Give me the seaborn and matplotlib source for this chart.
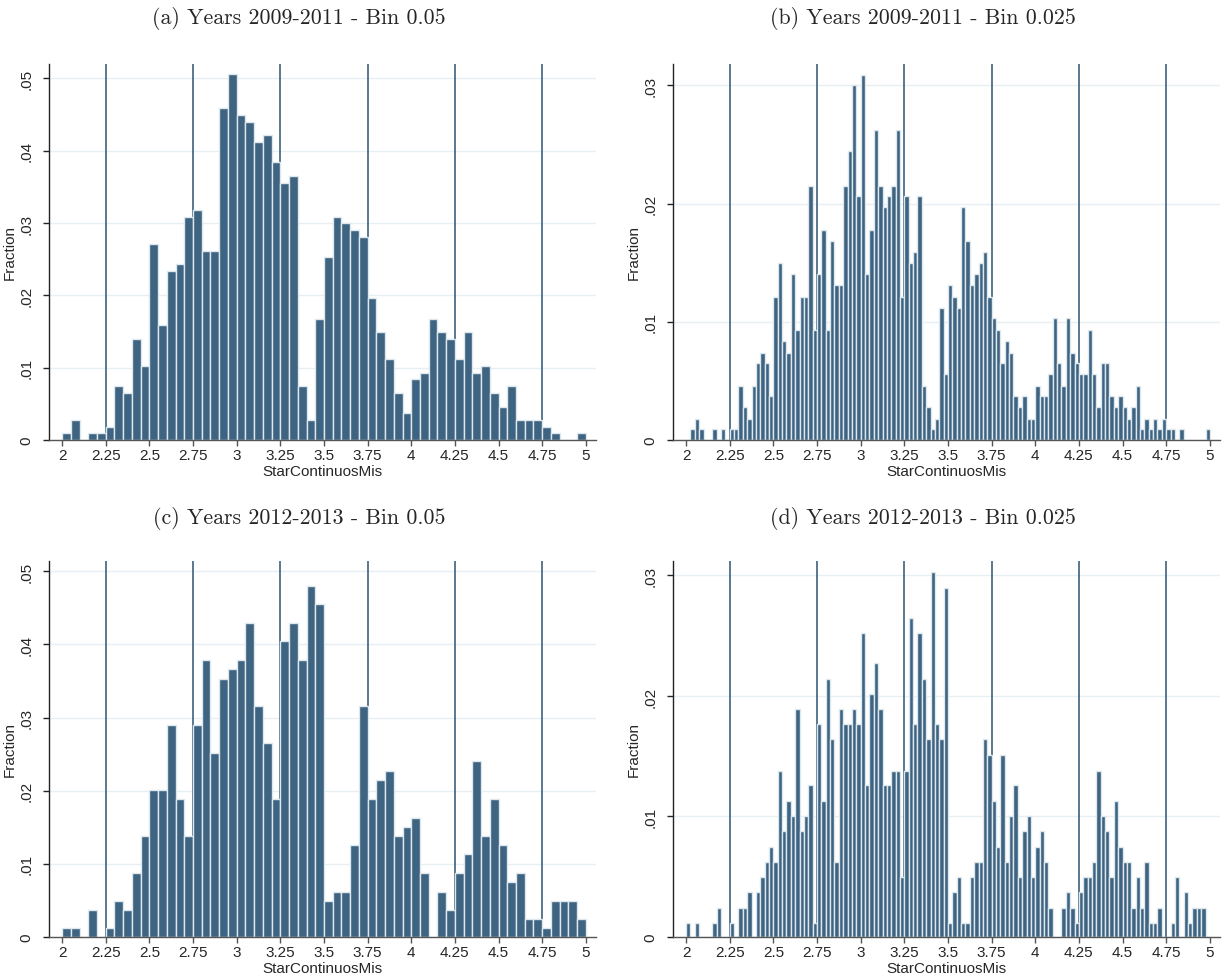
import numpy as np
import pandas as pd
import matplotlib
matplotlib.use("Agg")
import matplotlib.pyplot as plt
import seaborn as sns

# ---------------- data (fractions per bin) ----------------
bin_start = 2.0
bin_end = 5.0

frac_a_2009_05 = [
    0.0009, 0.0028, 0.0000, 0.0009, 0.0009, 0.0018, 0.0075, 0.0065, 0.0140, 0.0103,
    0.0271, 0.0159, 0.0234, 0.0243, 0.0309, 0.0318, 0.0262, 0.0262, 0.0459, 0.0506,
    0.0449, 0.0440, 0.0412, 0.0422, 0.0384, 0.0356, 0.0365, 0.0075, 0.0028, 0.0168,
    0.0253, 0.0309, 0.0300, 0.0290, 0.0281, 0.0196, 0.0150, 0.0112, 0.0065, 0.0037,
    0.0084, 0.0093, 0.0168, 0.0150, 0.0140, 0.0112, 0.0150, 0.0093, 0.0102, 0.0065,
    0.0046, 0.0075, 0.0028, 0.0028, 0.0028, 0.0018, 0.0009, 0.0000, 0.0000, 0.0009]

frac_b_2009_025 = [
    0.0000, 0.0009, 0.0018, 0.0009, 0.0000, 0.0000, 0.0009, 0.0000, 0.0009, 0.0000,
    0.0009, 0.0009, 0.0046, 0.0028, 0.0018, 0.0046, 0.0065, 0.0074, 0.0065, 0.0037,
    0.0121, 0.0150, 0.0084, 0.0074, 0.0140, 0.0093, 0.0121, 0.0121, 0.0215, 0.0093,
    0.0140, 0.0178, 0.0093, 0.0168, 0.0131, 0.0131, 0.0215, 0.0244, 0.0300, 0.0206,
    0.0309, 0.0140, 0.0178, 0.0262, 0.0215, 0.0197, 0.0206, 0.0215, 0.0262, 0.0121,
    0.0206, 0.0150, 0.0159, 0.0206, 0.0046, 0.0028, 0.0009, 0.0018, 0.0112, 0.0056,
    0.0131, 0.0121, 0.0112, 0.0197, 0.0168, 0.0131, 0.0140, 0.0150, 0.0159, 0.0121,
    0.0103, 0.0093, 0.0065, 0.0084, 0.0074, 0.0037, 0.0028, 0.0037, 0.0018, 0.0018,
    0.0046, 0.0037, 0.0037, 0.0056, 0.0103, 0.0065, 0.0046, 0.0103, 0.0074, 0.0065,
    0.0056, 0.0056, 0.0093, 0.0056, 0.0028, 0.0065, 0.0065, 0.0037, 0.0028, 0.0037,
    0.0028, 0.0018, 0.0028, 0.0046, 0.0009, 0.0018, 0.0009, 0.0018, 0.0009, 0.0018,
    0.0009, 0.0009, 0.0000, 0.0009, 0.0000, 0.0000, 0.0000, 0.0000, 0.0000, 0.0009]

frac_c_2012_05 = [
    0.0012, 0.0012, 0.0000, 0.0037, 0.0000, 0.0012, 0.0049, 0.0037, 0.0087, 0.0138,
    0.0201, 0.0201, 0.0290, 0.0189, 0.0138, 0.0290, 0.0379, 0.0252, 0.0353, 0.0366,
    0.0379, 0.0429, 0.0316, 0.0265, 0.0189, 0.0404, 0.0429, 0.0379, 0.0480, 0.0455,
    0.0049, 0.0062, 0.0062, 0.0126, 0.0316, 0.0189, 0.0214, 0.0227, 0.0138, 0.0151,
    0.0163, 0.0087, 0.0000, 0.0062, 0.0037, 0.0087, 0.0113, 0.0240, 0.0138, 0.0189,
    0.0126, 0.0075, 0.0087, 0.0024, 0.0024, 0.0012, 0.0049, 0.0049, 0.0049, 0.0024]

frac_d_2012_025 = [
    0.0012, 0.0000, 0.0012, 0.0000, 0.0000, 0.0000, 0.0012, 0.0024, 0.0000, 0.0000,
    0.0012, 0.0000, 0.0024, 0.0024, 0.0037, 0.0000, 0.0037, 0.0050, 0.0062, 0.0075,
    0.0062, 0.0138, 0.0088, 0.0113, 0.0100, 0.0189, 0.0088, 0.0100, 0.0126, 0.0012,
    0.0177, 0.0113, 0.0214, 0.0164, 0.0062, 0.0189, 0.0177, 0.0177, 0.0189, 0.0177,
    0.0252, 0.0126, 0.0202, 0.0227, 0.0189, 0.0126, 0.0126, 0.0138, 0.0138, 0.0050,
    0.0138, 0.0265, 0.0177, 0.0252, 0.0214, 0.0164, 0.0303, 0.0177, 0.0164, 0.0290,
    0.0012, 0.0037, 0.0050, 0.0012, 0.0012, 0.0050, 0.0062, 0.0062, 0.0164, 0.0151,
    0.0113, 0.0075, 0.0151, 0.0062, 0.0100, 0.0126, 0.0050, 0.0088, 0.0100, 0.0050,
    0.0075, 0.0088, 0.0062, 0.0024, 0.0000, 0.0000, 0.0024, 0.0037, 0.0024, 0.0012,
    0.0037, 0.0050, 0.0050, 0.0062, 0.0138, 0.0100, 0.0088, 0.0050, 0.0113, 0.0075,
    0.0062, 0.0062, 0.0024, 0.0050, 0.0024, 0.0062, 0.0012, 0.0012, 0.0024, 0.0000,
    0.0000, 0.0012, 0.0050, 0.0000, 0.0037, 0.0012, 0.0024, 0.0024, 0.0024, 0.0000]

titles = ["(a) Years 2009-2011 - Bin 0.05", "(b) Years 2009-2011 - Bin 0.025",
          "(c) Years 2012-2013 - Bin 0.05", "(d) Years 2012-2013 - Bin 0.025"]
ref_lines = [2.25, 2.75, 3.25, 3.75, 4.25, 4.75]
x_ticks = [2, 2.25, 2.5, 2.75, 3, 3.25, 3.5, 3.75, 4, 4.25, 4.5, 4.75, 5]
x_ticklabels = ["2", "2.25", "2.5", "2.75", "3", "3.25", "3.5", "3.75", "4",
                "4.25", "4.5", "4.75", "5"]
y_ticks_05 = [0, 0.01, 0.02, 0.03, 0.04, 0.05]
y_ticklabels_05 = ["0", ".01", ".02", ".03", ".04", ".05"]
y_ticks_025 = [0, 0.01, 0.02, 0.03]
y_ticklabels_025 = ["0", ".01", ".02", ".03"]
x_label = "StarContinuosMis"
y_label = "Fraction"

# ---------------- style ----------------
sns.set_theme(style="white")
plt.rcParams["font.family"] = ["Liberation Sans", "DejaVu Sans"]

BAR = "#3e6481"
EDGE = "#dde8ee"
VLINE = "#2d5374"
GRID = "#e8eff2"

W, H = 1225, 979
fig = plt.figure(figsize=(W / 100, H / 100), dpi=100)
fig.patch.set_facecolor("white")


def px_axes(x0, x1, ytop, ybot):
    return fig.add_axes([x0 / W, 1 - ybot / H, (x1 - x0) / W, (ybot - ytop) / H])


panels = [
    (frac_a_2009_05, 0.05, (49, 596, 65, 441), 0.0520, y_ticks_05, y_ticklabels_05),
    (frac_b_2009_025, 0.025, (673, 1220, 65, 441), 0.0318, y_ticks_025, y_ticklabels_025),
    (frac_c_2012_05, 0.05, (49, 596, 562, 938), 0.0514, y_ticks_05, y_ticklabels_05),
    (frac_d_2012_025, 0.025, (673, 1220, 562, 938), 0.0312, y_ticks_025, y_ticklabels_025),
]
title_pos = [(299, 18), (923, 18), (299, 518), (923, 518)]

for (frac, w, box, ytop, yt, ytl), title, (tx, ty) in zip(panels, titles, title_pos):
    ax = px_axes(*box)
    n = len(frac)
    centers = bin_start + w * (np.arange(n) + 0.5)
    df = pd.DataFrame({"x": centers, "w": np.asarray(frac, dtype=float)})
    # grid and reference lines behind bars
    for yv in yt[1:]:
        ax.axhline(yv, color=GRID, lw=1.0, zorder=0.3)
    for xv in ref_lines:
        ax.axvline(xv, color=VLINE, lw=1.1, zorder=0.5)
    sns.histplot(data=df, x="x", weights="w", binwidth=w,
                 binrange=(bin_start, bin_end), ax=ax, stat="count",
                 color=BAR, edgecolor=EDGE, linewidth=1.0, alpha=1, zorder=2)
    ax.set_xlim(1.925, 5.058)
    ax.set_ylim(0, ytop)
    ax.set_xticks(x_ticks)
    ax.set_xticklabels(x_ticklabels, fontsize=11)
    ax.set_yticks(yt)
    ax.set_yticklabels(ytl, fontsize=11, rotation=90, va="center")
    ax.tick_params(axis="x", direction="out", length=4, width=1, pad=2,
                   color="#555555", bottom=True)
    ax.tick_params(axis="y", direction="out", length=4, width=1, pad=7,
                   color="#222222", left=True)
    ax.set_xlabel(x_label, fontsize=11, labelpad=1)
    ax.set_ylabel(y_label, fontsize=11, labelpad=2)
    ax.grid(False)
    for s in ["top", "right"]:
        ax.spines[s].set_visible(False)
    ax.spines["left"].set_color("#222222")
    ax.spines["left"].set_linewidth(1.0)
    ax.spines["bottom"].set_color("#555555")
    ax.spines["bottom"].set_linewidth(1.0)
    ax.set_facecolor("white")
    fig.text(tx / W, 1 - ty / H, title, ha="center", va="center",
             fontsize=15.8, family="cmr10")

fig.savefig("out.png", dpi=100)
